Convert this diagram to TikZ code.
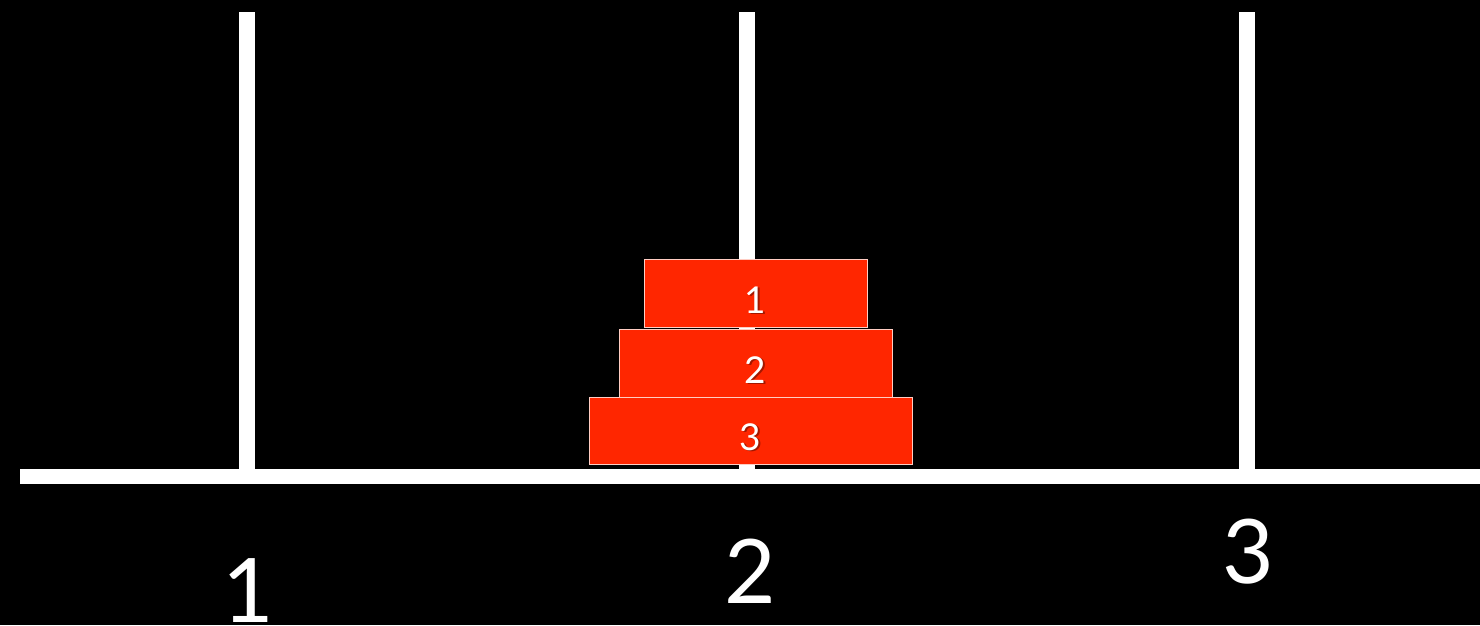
\documentclass[tikz,border=0pt]{standalone}
\usepackage{fontspec}
\setmainfont{Lato}
\definecolor{diskred}{RGB}{255,38,0}
\definecolor{diskedge}{RGB}{255,205,195}
\definecolor{shadowred}{RGB}{140,20,0}
\begin{document}
\begin{tikzpicture}[x=1pt,y=-1pt,
  pole/.style={fill=white,inner sep=0pt,minimum width=16pt,draw=none},
  disk/.style={fill=diskred,draw=diskedge,line width=0.8pt,inner sep=0pt},
  disklabel/.style={text=white,font=\fontsize{37}{37}\selectfont,anchor=base,inner sep=0pt},
  diskshadow/.style={text=shadowred,font=\fontsize{37}{37}\selectfont,anchor=base,inner sep=0pt,opacity=0.8},
  peglabel/.style={text=white,font=\fontsize{89}{89}\selectfont,anchor=base,inner sep=0pt}]
\fill[black] (0,0) rectangle (1480,625);
\useasboundingbox (0,0) rectangle (1480,625);
% poles
\node[pole,minimum height=457pt] (p1) at (247,240.5) {};
\node[pole,minimum height=457pt] (p2) at (747,240.5) {};
\node[pole,minimum height=457pt] (p3) at (1247,240.5) {};
% base
\node[fill=white,inner sep=0pt,minimum width=1460pt,minimum height=15pt] (base) at (750,476.5) {};
% disks
\node[disk,minimum width=323pt,minimum height=67pt] (d3) at (750.5,430.5) {};
\node[disk,minimum width=273pt,minimum height=68pt] (d2) at (755.5,363) {};
\node[disk,minimum width=223pt,minimum height=68pt] (d1) at (755.5,293) {};
% disk labels
\node[diskshadow] (s1) at (757,314.5) {1};
\node[disklabel] (t1) at (755.5,313) {1};
\node[diskshadow] (s2) at (757,384.5) {2};
\node[disklabel] (t2) at (755.5,383) {2};
\node[diskshadow] (s3) at (752,451.5) {3};
\node[disklabel] (t3) at (750.5,450) {3};
% peg labels
\node[peglabel] (l1) at (248,622) {1};
\node[peglabel] (l2) at (750,603) {2};
\node[peglabel] (l3) at (1248,583) {3};
\end{tikzpicture}
\end{document}
